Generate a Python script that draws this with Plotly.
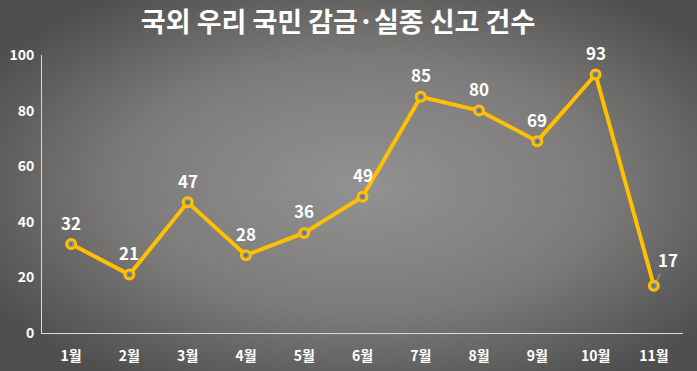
import base64
import plotly.graph_objects as go

months = ["1월", "2월", "3월", "4월", "5월", "6월", "7월", "8월", "9월", "10월", "11월"]
counts = [32, 21, 47, 28, 36, 49, 85, 80, 69, 93, 17]
y_ticks = [0, 20, 40, 60, 80, 100]

W, H = 697, 371
ML, MR, MT, MB = 42, 14, 55, 38
PW, PH = W - ML - MR, H - MT - MB

svg = f'''<svg xmlns="http://www.w3.org/2000/svg" width="{W}" height="{H}" viewBox="0 0 {W} {H}" preserveAspectRatio="none">
<defs><radialGradient id="g" cx="0.52" cy="0.5" r="0.62" fx="0.52" fy="0.5" gradientUnits="objectBoundingBox">
<stop offset="0" stop-color="#929292"/><stop offset="0.55" stop-color="#7d7b7a"/><stop offset="1" stop-color="#4f4f4f"/>
</radialGradient></defs><rect width="{W}" height="{H}" fill="url(#g)"/></svg>'''
bg = "data:image/svg+xml;base64," + base64.b64encode(svg.encode()).decode()

FONT = "Noto Sans CJK KR"
GOLD = "#FFC000"

fig = go.Figure()
fig.add_trace(go.Scatter(
    x=months, y=counts, mode="lines+markers",
    line=dict(color=GOLD, width=4),
    marker=dict(size=9, color="#8a8886", line=dict(color=GOLD, width=3)),
    hoverinfo="skip", showlegend=False,
))
fig.add_trace(go.Scatter(
    x=months, y=counts, mode="markers",
    marker=dict(size=2.5, color="#3a6fc4"),
    hoverinfo="skip", showlegend=False,
))

for i, (m, v) in enumerate(zip(months, counts)):
    if i == len(months) - 1:
        fig.add_annotation(x=m, y=v, text=f"<b>{v}</b>", showarrow=True,
                           arrowhead=0, arrowwidth=1, arrowcolor="#a6a6a6",
                           ax=14, ay=-26, standoff=5,
                           font=dict(family=FONT, size=17, color="white"))
    else:
        fig.add_annotation(x=m, y=v, text=f"<b>{v}</b>", showarrow=False,
                           yshift=22, font=dict(family=FONT, size=17, color="white"))

fig.add_layout_image(dict(
    source=bg, xref="paper", yref="paper",
    x=-ML / PW, y=1 + MT / PH, sizex=W / PW, sizey=H / PH,
    xanchor="left", yanchor="top", sizing="stretch", layer="below",
))

fig.update_layout(
    width=W, height=H,
    margin=dict(l=ML, r=MR, t=MT, b=MB, autoexpand=False),
    paper_bgcolor="#7a7a7a", plot_bgcolor="rgba(0,0,0,0)",
    title=dict(text="<b>국외 우리 국민 감금·실종 신고 건수</b>", x=0.485, xanchor="center",
               y=1 - 23 / H, yanchor="middle",
               font=dict(family=FONT, size=27, color="white")),
    font=dict(family=FONT, color="white"),
)
fig.update_xaxes(type="category", range=[-0.5, len(months) - 0.5], automargin=False,
                 showline=True, linecolor="#d9d9d9", linewidth=1,
                 showgrid=False, ticks="", zeroline=False,
                 tickvals=months, ticktext=[f"<b>{m}</b>" for m in months],
                 tickfont=dict(family=FONT, size=14, color="white"),
                 ticklabelstandoff=10)
fig.update_yaxes(range=[0, 100], tickvals=y_ticks, ticktext=[f"<b>{t}</b>" for t in y_ticks],
                 automargin=False,
                 showline=True, linecolor="#d9d9d9", linewidth=1,
                 showgrid=False, ticks="", zeroline=False,
                 tickfont=dict(family=FONT, size=14, color="white"),
                 ticklabelstandoff=4)

fig.write_html("out.html", config={"displayModeBar": False},
               post_script="document.body.style.margin='0';document.body.style.background='#7a7a7a';")
